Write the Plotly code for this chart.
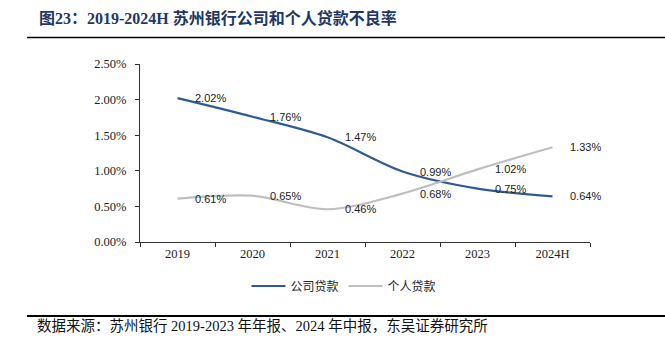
import plotly.graph_objects as go

categories = ["2019", "2020", "2021", "2022", "2023", "2024H"]
corporate_npl = [2.02, 1.76, 1.47, 0.99, 0.75, 0.64]
personal_npl = [0.61, 0.65, 0.46, 0.68, 1.02, 1.33]
series_names = ["公司贷款", "个人贷款"]
y_ticks = [0, 0.5, 1.0, 1.5, 2.0, 2.5]
title_text = "图23：2019-2024H 苏州银行公司和个人贷款不良率"
source_text = "数据来源：苏州银行 2019-2023 年年报、2024 年中报，东吴证券研究所"

W, H = 665, 352
ML, MR, MT, MB = 140, 75, 64, 110
PW, PH = W - ML - MR, H - MT - MB

def px(x):
    return (x - ML) / PW

def py(y):
    return (H - MB - y) / PH

blue = "#2F5A96"
gray = "#BFBFBF"

fig = go.Figure()
fig.add_trace(go.Scatter(x=categories, y=corporate_npl, mode="lines", name=series_names[0],
                         line=dict(color=blue, width=2.2, shape="spline", smoothing=0.9)))
fig.add_trace(go.Scatter(x=categories, y=personal_npl, mode="lines", name=series_names[1],
                         line=dict(color=gray, width=2.2, shape="spline", smoothing=0.9)))

annotations = []
for series in (corporate_npl, personal_npl):
    for i, v in enumerate(series):
        annotations.append(dict(x=i, y=v, xref="x", yref="y", text=f"{v:.2f}%",
                                showarrow=False, xanchor="left", yanchor="middle", xshift=15,
                                font=dict(family="Liberation Sans, Arial", size=11, color="#222222")))

annotations.append(dict(x=px(37), y=py(18), xref="paper", yref="paper", text=f"<b>{title_text}</b>",
                        showarrow=False, xanchor="left", yanchor="middle",
                        font=dict(family="Liberation Serif, Noto Sans CJK SC", size=16, color="#1F3864")))
annotations.append(dict(x=px(35), y=py(326), xref="paper", yref="paper", text=source_text,
                        showarrow=False, xanchor="left", yanchor="middle",
                        font=dict(family="Liberation Serif, Noto Sans CJK SC", size=14.5, color="#111111")))

shapes = [
    dict(type="line", xref="paper", yref="paper", x0=px(27), x1=px(665), y0=py(37.5), y1=py(37.5),
         line=dict(color="#000000", width=1.5)),
    dict(type="line", xref="paper", yref="paper", x0=px(27), x1=px(665), y0=py(316), y1=py(316),
         line=dict(color="#000000", width=2)),
]

fig.update_layout(
    width=W, height=H,
    margin=dict(l=ML, r=MR, t=MT, b=MB, pad=0),
    paper_bgcolor="white", plot_bgcolor="white",
    showlegend=True,
    legend=dict(orientation="h", x=px(344), xanchor="center", y=py(286), yanchor="middle",
                font=dict(family="Noto Sans CJK SC", size=12, color="#222222"),
                itemwidth=34, tracegroupgap=0, bgcolor="rgba(0,0,0,0)"),
    annotations=annotations,
    shapes=shapes,
)
fig.update_xaxes(type="category", range=[-0.5, 5.5], showline=True, linecolor="#333333", linewidth=1,
                 ticks="outside", tickson="boundaries", ticklen=4, tickcolor="#333333",
                 showgrid=False, zeroline=False,
                 tickfont=dict(family="Liberation Serif, Times New Roman", size=12.5, color="#222222"))
fig.update_yaxes(range=[0, 2.5], tickvals=y_ticks, ticktext=[f"{t:.2f}%" for t in y_ticks],
                 showline=True, linecolor="#333333", linewidth=1,
                 ticks="outside", ticklen=4, tickcolor="#333333", ticklabelstandoff=6,
                 showgrid=False, zeroline=False,
                 tickfont=dict(family="Liberation Serif, Times New Roman", size=12.5, color="#222222"))

fig.write_html("out.html")
